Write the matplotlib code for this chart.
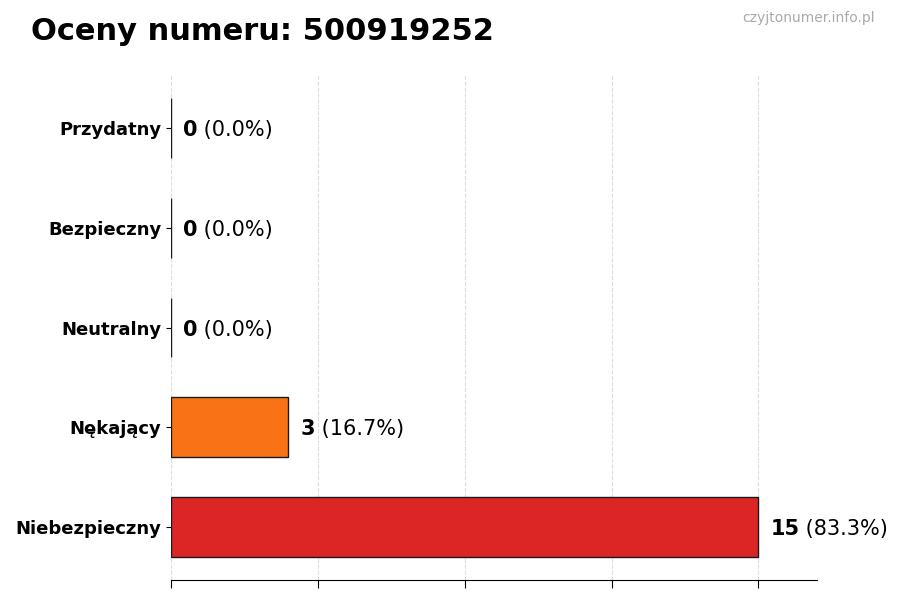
import matplotlib
matplotlib.use("Agg")
import matplotlib.pyplot as plt

categories = ["Niebezpieczny", "Nękający", "Neutralny", "Bezpieczny", "Przydatny"]
values = [15, 3, 0, 0, 0]
colors = ["#DC2626", "#F97316", "#9CA3AF", "#22C55E", "#3B82F6"]
title = "Oceny numeru: 500919252"
watermark = "czyjtonumer.info.pl"

total = sum(values)
vmax = max(values)

fig = plt.figure(figsize=(9, 6), dpi=100)
ax = fig.add_axes([0.19, 0.0333, 0.718, 0.8417])

ypos = list(range(len(categories)))
ax.barh(ypos, values, height=0.6, color=colors, edgecolor="#1a1a1a", linewidth=1.0, zorder=3)
ax.set_yticks(ypos)
ax.set_yticklabels(categories, fontsize=13, fontweight="bold")
ax.set_xlim(0, vmax * 1.1)
ticks = [vmax * i / 4 for i in range(5)]
ax.set_xticks(ticks)
ax.set_xticklabels([])
ax.tick_params(axis="x", length=6)
ax.grid(axis="x", linestyle="--", color="#dddddd", linewidth=0.8, zorder=0)
for s in ["top", "right", "left"]:
    ax.spines[s].set_visible(False)

off = vmax * 0.02
for y, v in zip(ypos, values):
    pct = 100.0 * v / total if total else 0.0
    t = ax.text(v + off, y, f"{v}", fontsize=15, fontweight="bold", va="center_baseline", ha="left", zorder=4)
    ax.annotate(f" ({pct:.1f}%)", xy=(1, 0), xycoords=t, fontsize=15, va="bottom", ha="left")

fig.text(0.034, 0.947, title, fontsize=22, fontweight="bold", va="center", ha="left")
fig.text(0.972, 0.97, watermark, fontsize=10, color="#aaaaaa", va="center", ha="right")

fig.savefig("out.png", dpi=100)
